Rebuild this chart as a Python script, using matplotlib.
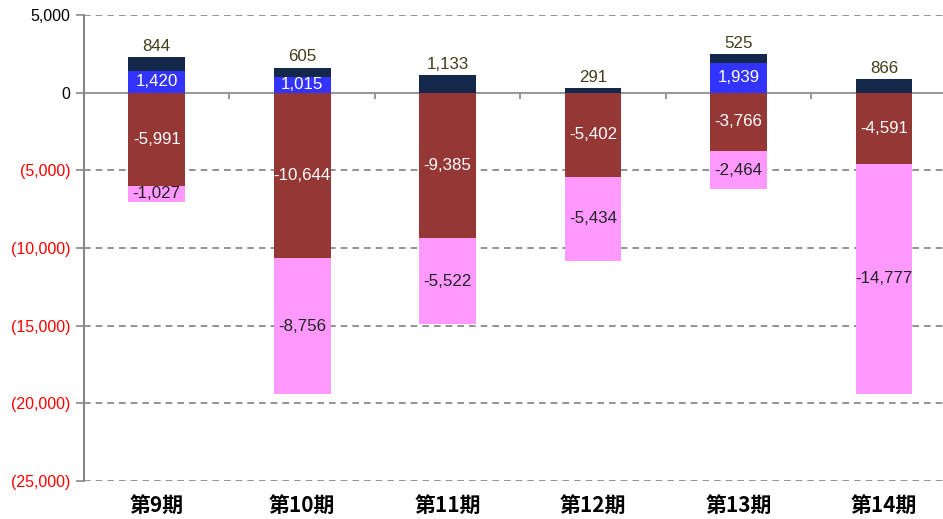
import numpy as np
import matplotlib.pyplot as plt
from matplotlib.ticker import FuncFormatter

plt.rcParams['font.family'] = ['Liberation Sans', 'Noto Sans CJK JP', 'DejaVu Sans']

periods = ['第9期', '第10期', '第11期', '第12期', '第13期', '第14期']
blue_vals = [1420, 1015, 0, 0, 1939, 0]
navy_vals = [844, 605, 1133, 291, 525, 866]
red_vals = [-5991, -10644, -9385, -5402, -3766, -4591]
pink_vals = [-1027, -8756, -5522, -5434, -2464, -14777]

C_BLUE = '#3333FF'
C_NAVY = '#14284B'
C_RED = '#953735'
C_PINK = '#FF99FF'

fig = plt.figure(figsize=(9.43, 5.19), dpi=100)
ax = fig.add_axes([0.0891, 0.0732, 0.9253, 0.8979])

x = np.arange(len(periods))
w = 0.39
blue = np.array(blue_vals)
navy = np.array(navy_vals)
red = np.array(red_vals)
pink = np.array(pink_vals)

ax.bar(x, blue, w, color=C_BLUE, zorder=3)
ax.bar(x, navy, w, bottom=blue, color=C_NAVY, zorder=3)
ax.bar(x, red, w, color=C_RED, zorder=3)
ax.bar(x, pink, w, bottom=red, color=C_PINK, zorder=3)

fs = 12.2
for i in range(len(periods)):
    if blue[i] != 0:
        ax.text(x[i], blue[i] / 2, f'{blue[i]:,}', ha='center', va='center',
                color='white', fontsize=fs, zorder=4)
    ax.text(x[i], blue[i] + navy[i] + 220, f'{navy[i]:,}', ha='center', va='bottom',
            color='#3F3F1A', fontsize=fs, zorder=4)
    ax.text(x[i], red[i] / 2, f'{red[i]:,}', ha='center', va='center',
            color='white', fontsize=fs, zorder=4)
    ax.text(x[i], red[i] + pink[i] / 2, f'{pink[i]:,}', ha='center', va='center',
            color='#222222', fontsize=fs, zorder=4)

ax.set_xlim(-0.5, len(periods) - 0.5)
ax.set_ylim(-25000, 5000)
ax.set_yticks(np.arange(-25000, 5001, 5000))


def fmt(v, pos):
    if v < 0:
        return f'({-v:,.0f})'
    return f'{v:,.0f}'


ax.yaxis.set_major_formatter(FuncFormatter(fmt))
for lab, v in zip(ax.get_yticklabels(), ax.get_yticks()):
    lab.set_color('#FF0000' if v < 0 else 'black')
ax.tick_params(axis='y', labelsize=11.5, length=6, color='#888888', width=1.2, pad=4)

for v in [5000, -5000, -10000, -15000, -20000, -25000]:
    ax.axhline(v, color='#808080', lw=1.2, ls=(0, (4, 3)), zorder=1)
ax.axhline(0, color='#999999', lw=1.5, zorder=2)

# category separator ticks on the zero line
for b in np.arange(0.5, len(periods) - 0.5, 1.0):
    ax.plot([b, b], [0, -350], color='#999999', lw=1.5, zorder=2)

ax.set_xticks(x)
ax.set_xticklabels(periods, fontsize=15, fontweight='bold',
                   family=['Noto Sans CJK JP', 'DejaVu Sans'])
ax.tick_params(axis='x', length=0, pad=10)

for s in ['top', 'right', 'bottom']:
    ax.spines[s].set_visible(False)
ax.spines['left'].set_color('#888888')
ax.spines['left'].set_linewidth(1.5)

fig.savefig('out.png', dpi=100)
